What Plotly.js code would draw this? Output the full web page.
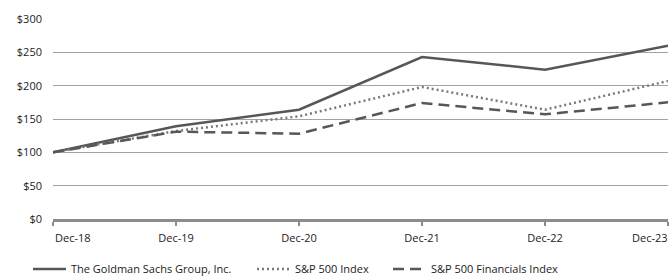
<!DOCTYPE html>
<html>
<head>
<meta charset="utf-8">
<script src="https://cdn.plot.ly/plotly-3.0.1.min.js"></script>
<style>html,body{margin:0;padding:0;background:#fff;}#chart{width:671px;height:276px;}</style>
</head>
<body>
<div id="chart"></div>
<script>
const categories = ["Dec-18", "Dec-19", "Dec-20", "Dec-21", "Dec-22", "Dec-23"];
const goldman = [100, 139, 164, 243, 224, 260];
const sp500 = [100, 132, 154, 198, 164, 207];
const financials = [100, 131, 128, 174, 157, 175];
const yTicks = [0, 50, 100, 150, 200, 250, 300];
const yTickText = ["$0", "$50", "$100", "$150", "$200", "$250", "$300"];

const fontFamily = "Open Sans, Liberation Sans, sans-serif";
const txtColor = "#222";
const fs = 11;

const traces = [
  {x: categories, y: goldman, name: "The Goldman Sachs Group, Inc.", mode: "lines",
   line: {color: "#575757", width: 2.5}, legend: "legend"},
  {x: categories, y: sp500, name: "S&P 500 Index", mode: "lines",
   line: {color: "#7a7a7a", width: 2.5, dash: "2px,3px"}, legend: "legend2"},
  {x: categories, y: financials, name: "S&P 500 Financials Index", mode: "lines",
   line: {color: "#575757", width: 2.5, dash: "11px,6px"}, legend: "legend3"}
];

function leg(x) {
  return {orientation: "h", x: x, xanchor: "left", yref: "container", y: 0.025, yanchor: "middle",
          font: {family: fontFamily, size: fs, color: txtColor}, itemwidth: 33,
          bgcolor: "rgba(0,0,0,0)"};
}

// Tick labels for the middle categories come from the axis; first/last are aligned to the edges like the original
const midText = categories.map((c, i) => (i === 0 || i === categories.length - 1) ? "" : c);

const layout = {
  width: 671, height: 276,
  margin: {l: 53, r: 3, t: 19, b: 57, autoexpand: false},
  paper_bgcolor: "#fff", plot_bgcolor: "#fff",
  font: {family: fontFamily, size: fs, color: txtColor},
  showlegend: true,
  legend: leg(-0.0407),
  legend2: leg(0.3236),
  legend3: leg(0.5447),
  xaxis: {type: "category", range: [0, 5], showgrid: false, zeroline: false,
          showline: true, linecolor: "#8c8c8c", linewidth: 2.5,
          ticks: "outside", ticklen: 4, tickcolor: "#8c8c8c", tickwidth: 1.5,
          tickmode: "array", tickvals: categories, ticktext: midText,
          ticklabelstandoff: 3,
          tickfont: {family: fontFamily, size: fs, color: txtColor}, fixedrange: true},
  yaxis: {range: [0, 300], tickmode: "array", tickvals: yTicks, ticktext: yTickText,
          showgrid: true, gridcolor: "#a3a3a3", gridwidth: 1, zeroline: false, showline: false,
          ticks: "", ticklabelstandoff: 10,
          tickfont: {family: fontFamily, size: fs, color: txtColor}, fixedrange: true},
  annotations: [
    {xref: "x", yref: "paper", x: categories[0], y: 0, yshift: -18, xanchor: "left", yanchor: "middle",
     text: categories[0], showarrow: false, font: {family: fontFamily, size: fs, color: txtColor}},
    {xref: "x", yref: "paper", x: categories[categories.length - 1], y: 0, yshift: -18, xanchor: "right", yanchor: "middle",
     text: categories[categories.length - 1], showarrow: false, xshift: 2, font: {family: fontFamily, size: fs, color: txtColor}}
  ]
};

Plotly.newPlot("chart", traces, layout, {displayModeBar: false, staticPlot: true});
</script>
</body>
</html>
